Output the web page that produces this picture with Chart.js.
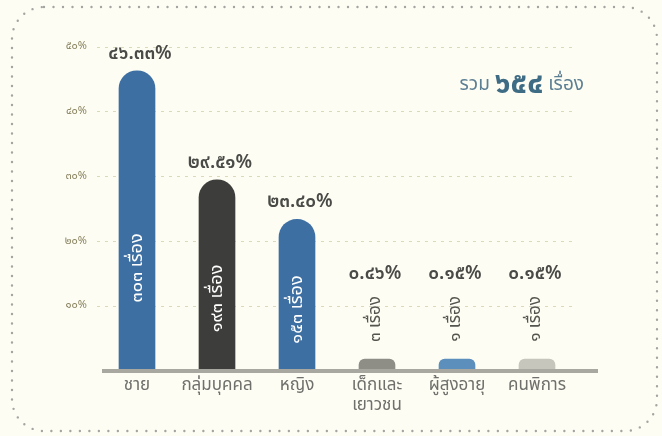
<!DOCTYPE html>
<html>
<head>
<meta charset="utf-8">
<script src="https://cdn.jsdelivr.net/npm/chart.js@4.4.1/dist/chart.umd.min.js"></script>
<style>
html,body{margin:0;padding:0;background:#fdfdf4;}
#wrap{width:662px;height:436px;position:relative;}
</style>
</head>
<body>
<div id="wrap"><canvas id="c" width="662" height="436"></canvas></div>
<script>
const categories = [['ชาย'], ['กลุ่มบุคคล'], ['หญิง'], ['เด็กและ', 'เยาวชน'], ['ผู้สูงอายุ'], ['คนพิการ']];
const percents = [46.33, 29.51, 23.40, 0.46, 0.15, 0.15];
const counts = [303, 193, 153, 3, 1, 1];
const yTicks = [10, 20, 30, 40, 50];
const barColors = ['#3d6fa3', '#3d3d3b', '#3d6fa3', '#8e8e86', '#5d8fbd', '#c6c6bd'];

const FONT = "'Noto Sans Thai','Loma','Garuda','Tlwg Typist','Laksaman','Sarabun','DejaVu Sans',sans-serif";
const thaiDigits = '๐๑๒๓๔๕๖๗๘๙';
function th(s){ return String(s).replace(/[0-9]/g, d => thaiDigits[+d]); }

const decorPlugin = {
  id: 'decor',
  beforeDraw(chart){
    const ctx = chart.ctx;
    ctx.save();
    ctx.fillStyle = '#fdfdf4';
    ctx.fillRect(0,0,chart.width,chart.height);
    const x0=12,y0=7,x1=chart.width-5,y1=chart.height-5,r=32;
    ctx.beginPath();
    ctx.moveTo(x0+r,y0);
    ctx.lineTo(x1-r,y0); ctx.arcTo(x1,y0,x1,y0+r,r);
    ctx.lineTo(x1,y1-r); ctx.arcTo(x1,y1,x1-r,y1,r);
    ctx.lineTo(x0+r,y1); ctx.arcTo(x0,y1,x0,y1-r,r);
    ctx.lineTo(x0,y0+r); ctx.arcTo(x0,y0,x0+r,y0,r);
    ctx.closePath();
    ctx.setLineDash([0,9.5]);
    ctx.lineCap='round';
    ctx.lineWidth=2.4;
    ctx.strokeStyle='#a4a4a0';
    ctx.stroke();
    ctx.restore();
  },
  afterDatasetsDraw(chart){
    const ctx = chart.ctx;
    const area = chart.chartArea;
    const meta = chart.getDatasetMeta(0);
    ctx.save();
    ctx.strokeStyle='#a8a8a0';
    ctx.lineWidth=4;
    ctx.beginPath();
    ctx.moveTo(area.left+5, area.bottom);
    ctx.lineTo(area.right+21, area.bottom);
    ctx.stroke();

    meta.data.forEach((bar,i)=>{
      const x = bar.x, top = bar.y, base = bar.base;
      const h = base - top;
      const big = h > 60;
      ctx.fillStyle='#4a4a47';
      ctx.font = "600 19px " + FONT;
      ctx.textAlign='center';
      ctx.textBaseline='middle';
      const pct = th(percents[i].toFixed(2)) + '%';
      if (big){
        ctx.fillText(pct, x + 3, top - 16);
      } else {
        ctx.fillText(pct, x - 2, base - 96);
      }
      const txt = th(counts[i]) + ' เรื่อง';
      ctx.save();
      if (big){
        const cy = base - 0.28*h - 19;
        ctx.translate(x + 1, cy);
        ctx.rotate(-Math.PI/2);
        ctx.fillStyle='#ffffff';
        ctx.font = "18px " + FONT;
        ctx.textAlign='center';
        ctx.fillText(txt, 0, 0);
      } else {
        ctx.translate(x, base - 52);
        ctx.rotate(-Math.PI/2);
        ctx.fillStyle='#55554f';
        ctx.font = "17px " + FONT;
        ctx.textAlign='center';
        ctx.fillText(txt, 0, 0);
      }
      ctx.restore();
    });

    const total = counts.reduce((a,b)=>a+b,0);
    const yT = area.top + 43;
    const right = area.right + 7;
    ctx.textBaseline='alphabetic';
    ctx.textAlign='left';
    const p1 = 'รวม ', p2 = th(total), p3 = ' เรื่อง';
    ctx.font = "19px " + FONT; const w1 = ctx.measureText(p1).width; const w3 = ctx.measureText(p3).width;
    ctx.font = "bold 30px " + FONT; const w2 = ctx.measureText(p2).width;
    let xx = right - w1 - w2 - w3;
    ctx.fillStyle='#5d7f93';
    ctx.font = "19px " + FONT; ctx.fillText(p1, xx, yT); xx += w1;
    ctx.fillStyle='#3f6c85';
    ctx.font = "bold 30px " + FONT; ctx.fillText(p2, xx, yT+3); xx += w2;
    ctx.fillStyle='#5d7f93';
    ctx.font = "19px " + FONT; ctx.fillText(p3, xx, yT);
    ctx.restore();
  }
};

new Chart(document.getElementById('c'), {
  type: 'bar',
  data: {
    labels: categories,
    datasets: [{
      data: percents,
      backgroundColor: barColors,
      borderWidth: 0,
      borderSkipped: 'bottom',
      borderRadius: {topLeft: 20, topRight: 20, bottomLeft: 0, bottomRight: 0},
      barThickness: 36,
      minBarLength: 12
    }]
  },
  options: {
    responsive: false,
    animation: false,
    devicePixelRatio: 1,
    layout: {padding: {top: 47, right: 85, bottom: 0, left: 0}},
    plugins: {legend: {display: false}, tooltip: {enabled: false}},
    scales: {
      x: {
        grid: {display: false, drawTicks: false},
        border: {display: false},
        ticks: {color: '#6f6f6b', font: {family: FONT, size: 17}, padding: 5, maxRotation: 0, autoSkip: false},
        afterFit(s){ s.height = 65; }
      },
      y: {
        min: 0, max: 50,
        afterBuildTicks(s){ s.ticks = yTicks.map(v=>({value:v})); },
        grid: {color: '#dcd8bc', lineWidth: 1, drawTicks: false},
        border: {display: false, dash: [3,5]},
        ticks: {color: '#8a8460', font: {family: FONT, size: 11}, padding: 10, callback: v => th(v) + '%'},
        afterFit(s){ s.width = 97; }
      }
    }
  },
  plugins: [decorPlugin]
});
</script>
</body>
</html>
